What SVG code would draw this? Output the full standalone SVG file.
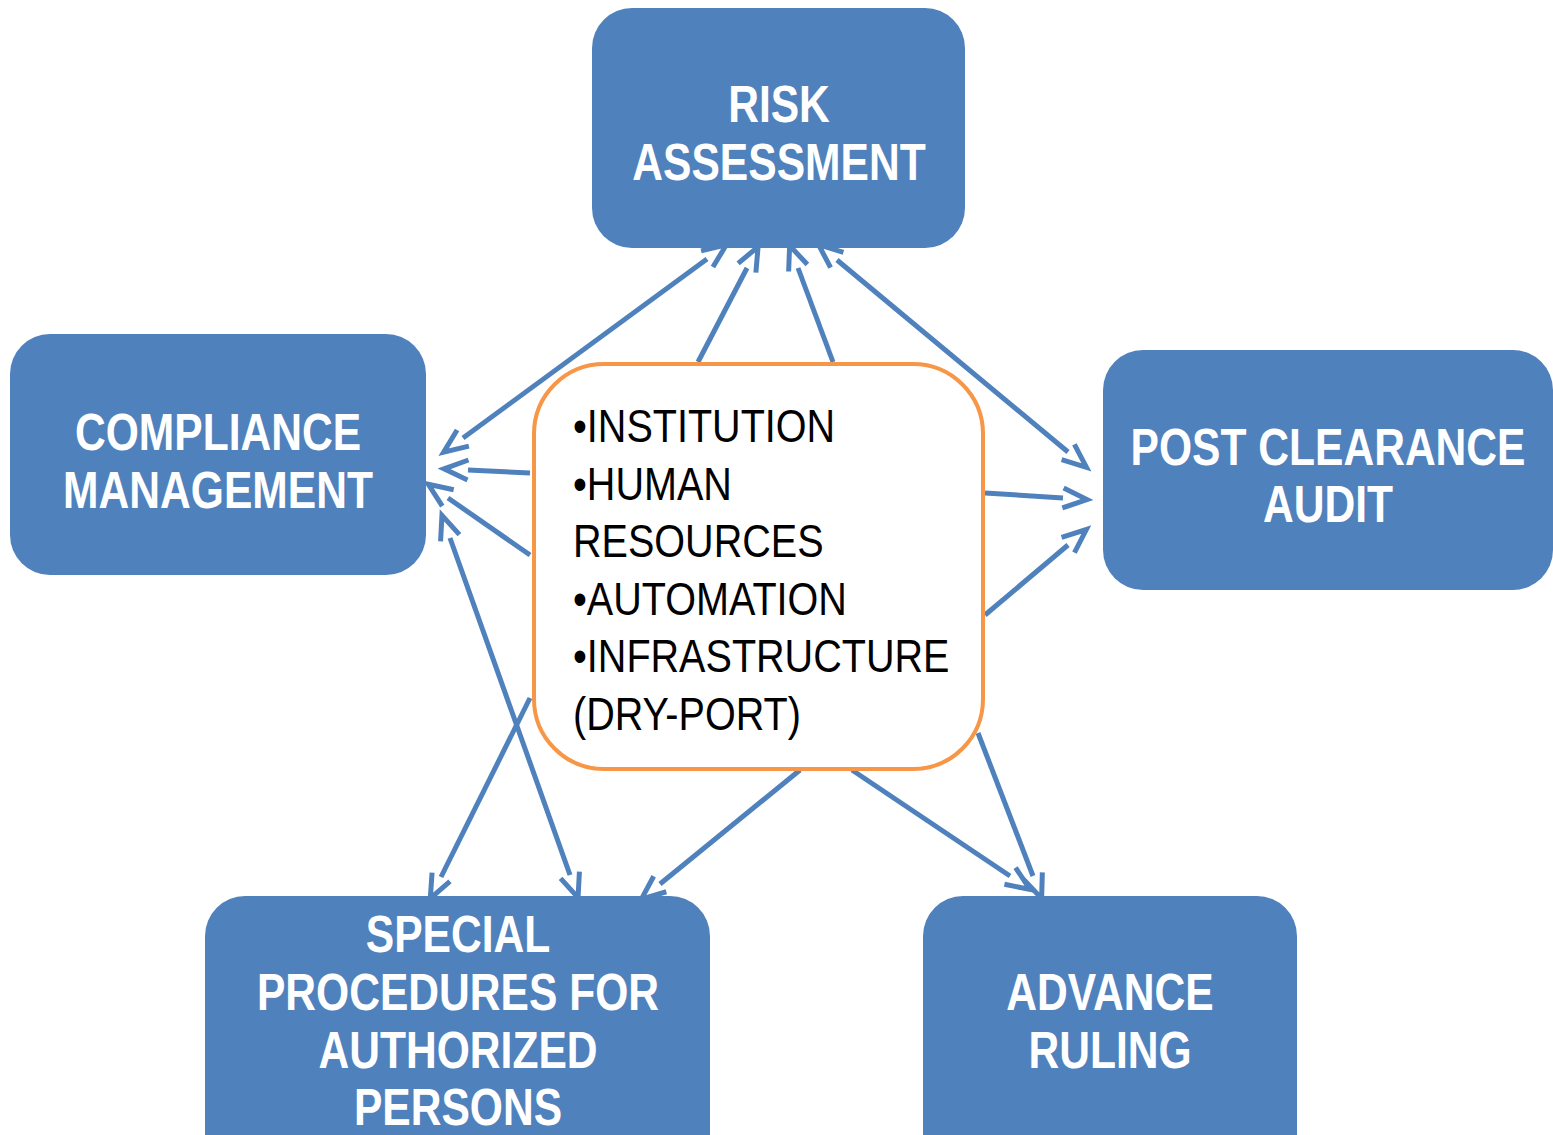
<svg xmlns="http://www.w3.org/2000/svg" width="1553" height="1135" viewBox="0 0 1553 1135">
<style>
.box{fill:#4F81BD;}
.lbl{font-family:"Liberation Sans",Arial,sans-serif;font-weight:bold;font-size:51px;fill:#fff;text-anchor:middle;}
.ctr{font-family:"Liberation Sans",Arial,sans-serif;font-size:46px;fill:#000;}
.con{stroke:#4F81BD;stroke-width:5;fill:none;}
</style>
<defs>
<marker id="ah" markerUnits="userSpaceOnUse" orient="auto-start-reverse" refX="0" refY="0" viewBox="-4 -14 32 28" markerWidth="32" markerHeight="28" overflow="visible">
<path d="M0,-10 L24,0 L0,10" fill="none" stroke="#4F81BD" stroke-width="5"/>
</marker>
</defs>
<rect width="1553" height="1135" fill="#fff"/>
<g id="connectors">
<line class="con" x1="463" y1="438" x2="707" y2="259" marker-start="url(#ah)" marker-end="url(#ah)"/>
<line class="con" x1="698" y1="362" x2="747" y2="268" marker-end="url(#ah)"/>
<line class="con" x1="833" y1="362" x2="798" y2="268" marker-end="url(#ah)"/>
<line class="con" x1="837" y1="260" x2="1068" y2="452" marker-start="url(#ah)" marker-end="url(#ah)"/>
<line class="con" x1="985" y1="493" x2="1063" y2="498" marker-end="url(#ah)"/>
<line class="con" x1="985" y1="615" x2="1068" y2="545" marker-end="url(#ah)"/>
<line class="con" x1="530" y1="473" x2="468" y2="470" marker-end="url(#ah)"/>
<line class="con" x1="530" y1="555" x2="448" y2="498" marker-end="url(#ah)"/>
<line class="con" x1="450" y1="538" x2="570" y2="875" marker-start="url(#ah)" marker-end="url(#ah)"/>
<line class="con" x1="530" y1="698" x2="441" y2="877" marker-end="url(#ah)"/>
<line class="con" x1="800" y1="770" x2="660" y2="884" marker-end="url(#ah)"/>
<line class="con" x1="852" y1="770" x2="1010" y2="876" marker-end="url(#ah)"/>
<line class="con" x1="978" y1="733" x2="1033" y2="876" marker-end="url(#ah)"/>
</g>
<g id="risk">
<rect class="box" x="592" y="8" width="373" height="240" rx="40"/>
<text class="lbl" transform="translate(779 122) scale(0.835 1)">RISK</text>
<text class="lbl" transform="translate(779 180) scale(0.835 1)">ASSESSMENT</text>
</g>
<g id="compliance">
<rect class="box" x="10" y="334" width="416" height="241" rx="40"/>
<text class="lbl" transform="translate(218 450) scale(0.835 1)">COMPLIANCE</text>
<text class="lbl" transform="translate(218 508) scale(0.835 1)">MANAGEMENT</text>
</g>
<g id="postclearance">
<rect class="box" x="1103" y="350" width="450" height="240" rx="40"/>
<text class="lbl" transform="translate(1328 465) scale(0.835 1)">POST CLEARANCE</text>
<text class="lbl" transform="translate(1328 522) scale(0.835 1)">AUDIT</text>
</g>
<g id="special">
<rect class="box" x="205" y="896" width="505" height="280" rx="40"/>
<text class="lbl" transform="translate(458 952) scale(0.835 1)">SPECIAL</text>
<text class="lbl" transform="translate(458 1010) scale(0.835 1)">PROCEDURES FOR</text>
<text class="lbl" transform="translate(458 1068) scale(0.835 1)">AUTHORIZED</text>
<text class="lbl" transform="translate(458 1125) scale(0.835 1)">PERSONS</text>
</g>
<g id="advance">
<rect class="box" x="923" y="896" width="374" height="280" rx="40"/>
<text class="lbl" transform="translate(1110 1010) scale(0.835 1)">ADVANCE</text>
<text class="lbl" transform="translate(1110 1068) scale(0.835 1)">RULING</text>
</g>
<g id="center">
<rect x="534" y="364" width="449" height="405" rx="70" fill="#fff" stroke="#F79646" stroke-width="4"/>
<text class="ctr" transform="translate(573 442) scale(0.86 1)">•INSTITUTION</text>
<text class="ctr" transform="translate(573 500) scale(0.86 1)">•HUMAN</text>
<text class="ctr" transform="translate(573 557) scale(0.86 1)">RESOURCES</text>
<text class="ctr" transform="translate(573 615) scale(0.86 1)">•AUTOMATION</text>
<text class="ctr" transform="translate(573 672) scale(0.86 1)">•INFRASTRUCTURE</text>
<text class="ctr" transform="translate(573 730) scale(0.86 1)">(DRY-PORT)</text>
</g>
</svg>
